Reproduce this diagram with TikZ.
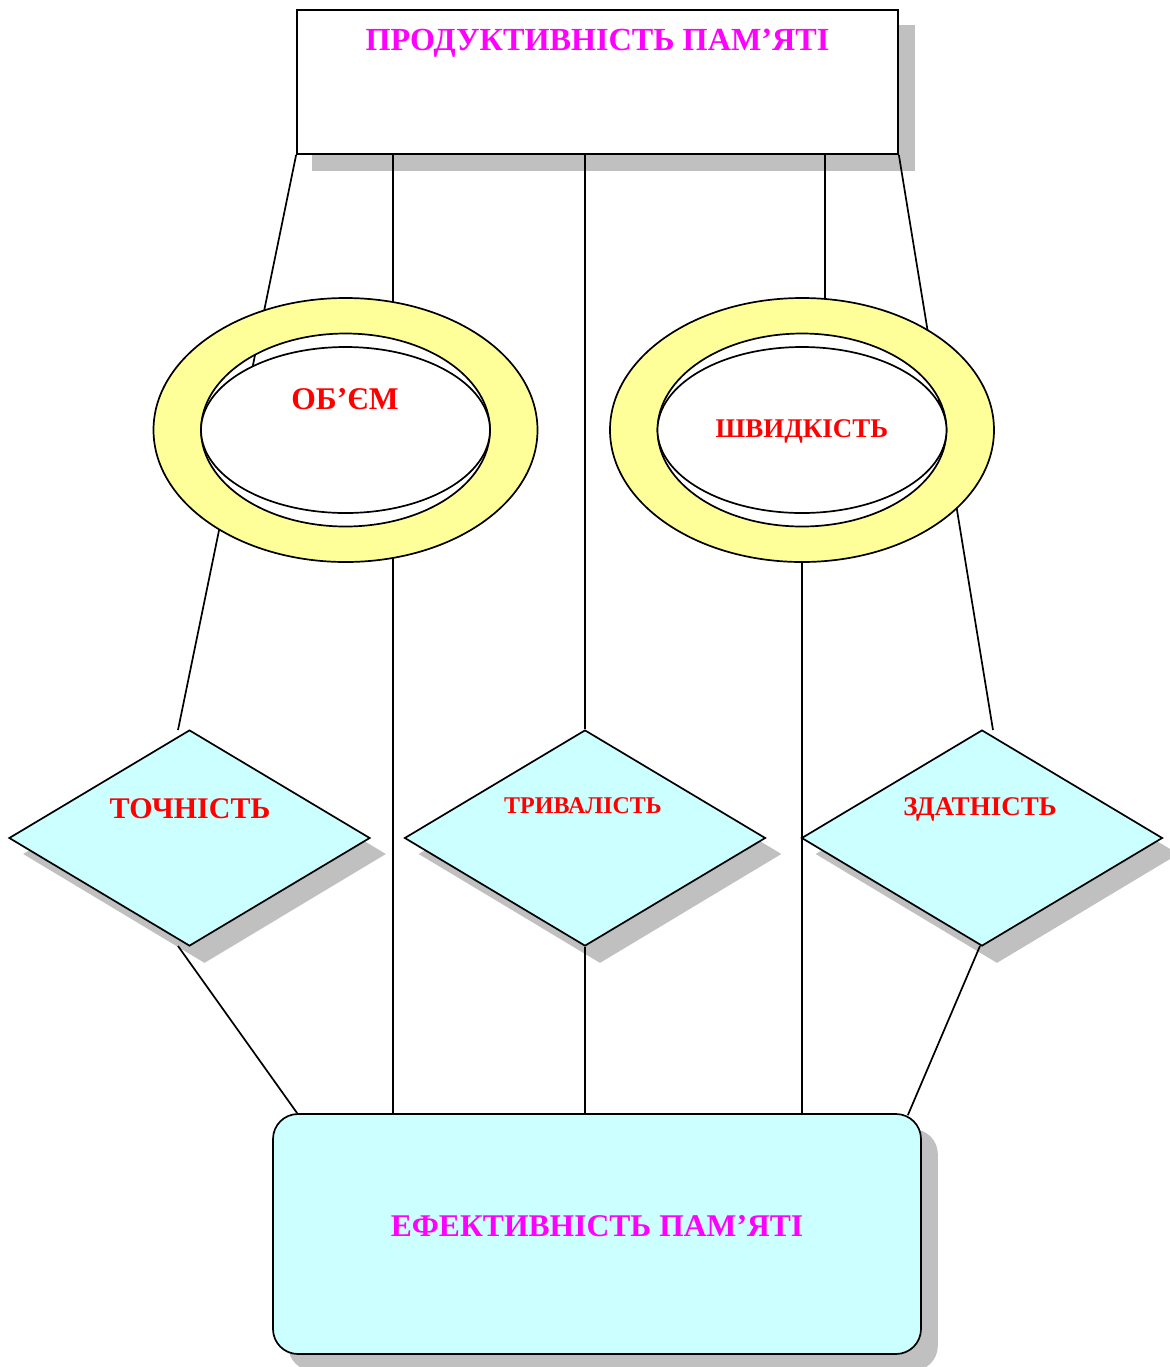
\documentclass[tikz,border=0pt]{standalone}
\usepackage{fontspec}
\setmainfont{Liberation Serif}
\usetikzlibrary{shapes.geometric,calc}
\definecolor{ringyellow}{HTML}{FFFF99}
\definecolor{palecyan}{HTML}{CCFFFF}
\definecolor{shadowgray}{HTML}{C0C0C0}
\definecolor{magentatext}{HTML}{FF00FF}
\definecolor{redtext}{HTML}{FF0000}
\pgfdeclarelayer{shadowlayer}
\pgfdeclarelayer{linelayer}
\pgfsetlayers{shadowlayer,linelayer,main}
\tikzset{
  outline/.style={draw=black, line width=0.85pt},
  conn/.style={draw=black, line width=0.85pt},
  topbox/.style={outline, rectangle, fill=white, inner sep=0pt, minimum width=300.5pt, minimum height=72pt},
  botbox/.style={outline, rectangle, rounded corners=12.5pt, fill=palecyan, inner sep=0pt, minimum width=324pt, minimum height=120pt},
  ringout/.style={outline, ellipse, inner sep=0pt, minimum width=192pt, minimum height=132pt},
  ringin/.style={outline, ellipse, fill=white, inner sep=0pt, minimum width=144.5pt, minimum height=83pt},
  diam/.style={outline, diamond, fill=palecyan, inner sep=0pt, minimum width=180.5pt, minimum height=108pt},
  shade/.style={fill=shadowgray},
  ttl/.style={text=magentatext, inner sep=0pt, anchor=base},
  lbl/.style={text=redtext, inner sep=0pt, anchor=base},
}
\begin{document}
\begin{tikzpicture}[x=0.5pt,y=-0.5pt]
\clip (0,0) rectangle (1170,1367);

% main shapes
\node[topbox] (top) at (597.5,82) {};
\node[botbox] (bot) at (597,1234) {};
\node[diam] (toch) at (189.5,838) {};
\node[diam] (tryv) at (585,838) {};
\node[diam] (zdat) at (982,838) {};

% rings
\coordinate (obc) at (345.5,430);
\coordinate (shvc) at (802,430);
\fill[ringyellow, even odd rule] (obc) ellipse[x radius=192, y radius=132] (obc) ellipse[x radius=144.5, y radius=96.5];
\fill[ringyellow, even odd rule] (shvc) ellipse[x radius=192, y radius=132] (shvc) ellipse[x radius=144.5, y radius=96.5];
\node[ringout] (ob) at (obc) {};
\node[ringout] (shv) at (shvc) {};
\draw[outline] (obc) ellipse[x radius=144.5, y radius=96.5];
\draw[outline] (shvc) ellipse[x radius=144.5, y radius=96.5];
\node[ringin] (obin) at (obc) {};
\node[ringin] (shvin) at (shvc) {};

% texts
\node[ttl, font=\bfseries\fontsize{16.1pt}{18pt}\selectfont] (toptext) at (597.5,50) {ПРОДУКТИВНІСТЬ ПАМ’ЯТІ};
\node[ttl, font=\bfseries\fontsize{15.8pt}{18pt}\selectfont] (bottext) at (597,1236) {ЕФЕКТИВНІСТЬ ПАМ’ЯТІ};
\node[lbl, font=\bfseries\fontsize{15.8pt}{18pt}\selectfont] (obtext) at (345,409) {ОБ’ЄМ};
\node[lbl, font=\bfseries\fontsize{13.5pt}{16pt}\selectfont] (shvtext) at (802,437) {ШВИДКІСТЬ};
\node[lbl, font=\bfseries\fontsize{15pt}{17pt}\selectfont] (tochtext) at (190,818) {ТОЧНІСТЬ};
\node[lbl, font=\bfseries\fontsize{12pt}{14pt}\selectfont] (tryvtext) at (583,813) {ТРИВАЛІСТЬ};
\node[lbl, font=\bfseries\fontsize{13.5pt}{16pt}\selectfont] (zdattext) at (980,815) {ЗДАТНІСТЬ};

% shadows
\begin{pgfonlayer}{shadowlayer}
\fill[shade] ([shift={(16,16)}]top.south west) rectangle ([shift={(16,16)}]top.north east);
\fill[shade, rounded corners=12.5pt] ([shift={(16,16)}]bot.south west) rectangle ([shift={(16,16)}]bot.north east);
\foreach \d in {toch,tryv,zdat}{
  \fill[shade] ([shift={(15,16)}]\d.north) -- ([shift={(15,16)}]\d.east) -- ([shift={(15,16)}]\d.south) -- ([shift={(15,16)}]\d.west) -- cycle;
}
\end{pgfonlayer}

% connectors
\coordinate (tochin) at (178,730);
\coordinate (tochout) at (178,946);
\coordinate (zdatin) at (993,730);
\coordinate (zdatout) at (980,946);
\coordinate (colA) at (393,154);
\coordinate (colB) at (825,154);
\coordinate (leftup) at ($(top.south west)!0.375!(tochin)$);
\coordinate (leftdown) at ($(top.south west)!0.609!(tochin)$);
\begin{pgfonlayer}{linelayer}
\draw[conn] (top.south west) -- (leftup);
\draw[conn] (leftdown) -- (tochin);
\draw[conn] (colA) -- ($(colA |- ob.north)+(0,6)$);
\draw[conn] (tryv.north |- top.south) -- (tryv.north);
\draw[conn] (colB) -- ($(colB |- shv.north)+(0,6)$);
\draw[conn] (top.south east) -- (zdatin);
\draw[conn] ($(colA |- ob.south)+(0,-6)$) -- (colA |- bot.north);
\draw[conn] (tryv.south) -- (tryv.south |- bot.north);
\draw[conn] (shv.south) -- (shv.south |- bot.north);
\draw[conn] (tochout) -- ($(bot.north west)+(25,0)$);
\draw[conn] (zdatout) -- ($(bot.north east)+(-14,2)$);
\end{pgfonlayer}
\end{tikzpicture}
\end{document}
